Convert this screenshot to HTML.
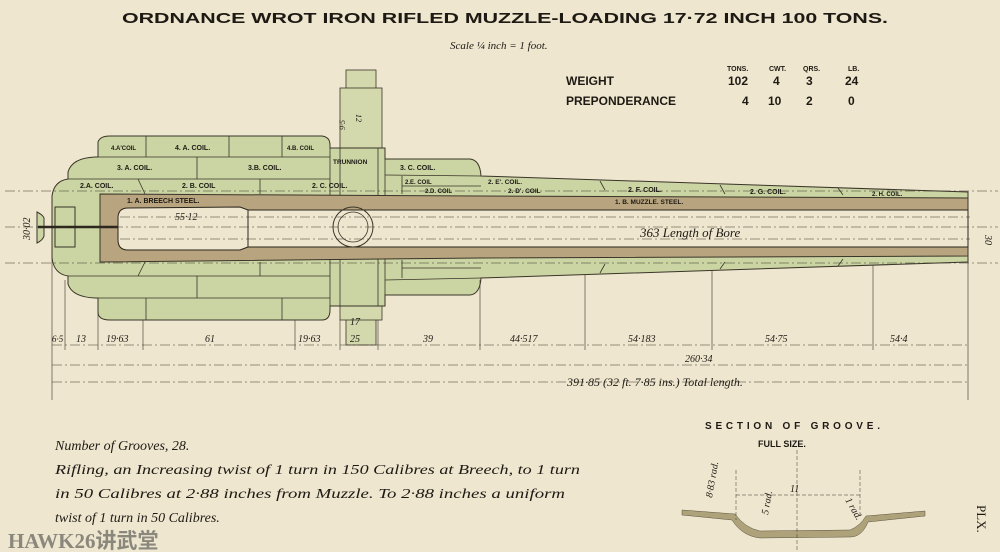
<!DOCTYPE html>
<html><head><meta charset="utf-8"><style>
html,body{margin:0;padding:0;background:#efe6cf;}
svg{display:block}
.t{font-family:"Liberation Sans",sans-serif;font-weight:bold;fill:#1d1a14}
.i{font-family:"Liberation Serif",serif;font-style:italic;fill:#1d1a14}
.c{font-family:"Liberation Sans",sans-serif;font-weight:bold;font-size:7px;fill:#1d1a14}
.d{font-family:"Liberation Serif",serif;font-style:italic;font-size:10px;fill:#1d1a14}
</style></head><body>
<svg width="1000" height="552" viewBox="0 0 1000 552" xmlns="http://www.w3.org/2000/svg">
<rect width="1000" height="552" fill="#efe6cf"/>
<!-- title -->
<text class="t" x="122" y="23" font-size="15" textLength="766" lengthAdjust="spacingAndGlyphs">ORDNANCE  WROT  IRON  RIFLED MUZZLE-LOADING 17·72  INCH  100 TONS.</text>
<text class="i" x="450" y="49" font-size="11">Scale ¼ inch = 1 foot.</text>
<!-- weight table -->
<g class="t" font-size="7"><text x="727" y="71">TONS.</text><text x="769" y="71">CWT.</text><text x="803" y="71">QRS.</text><text x="848" y="71">LB.</text></g>
<g class="t" font-size="12"><text x="566" y="85">WEIGHT</text><text x="566" y="105">PREPONDERANCE</text>
<text x="728" y="85">102</text><text x="773" y="85">4</text><text x="806" y="85">3</text><text x="845" y="85">24</text>
<text x="742" y="105">4</text><text x="768" y="105">10</text><text x="806" y="105">2</text><text x="848" y="105">0</text></g>

<!-- trunnion strip top/bottom -->
<g fill="#d3d9ad" stroke="#3a3528" stroke-width="0.8">
<rect x="346" y="70" width="30" height="82"/>
<rect x="340" y="88" width="42" height="60"/>
<rect x="346" y="300" width="30" height="45"/>
<rect x="340" y="300" width="42" height="20"/>
</g>
<!-- gun body -->
<path d="M52,227 L52,196 Q54,181 68,179 L68,172 Q72,158 95,157 L98,157 L98,142 Q100,136 110,136 L322,136 Q330,137 330,145 L330,148 L385,148 L385,159 L470,159 Q480,160 481,176 L968,192 L968,262 L481,278 Q480,294 470,295 L385,295 L385,306 L330,306 L330,310 Q330,320 322,320 L110,320 Q98,320 98,312 L98,298 L95,298 Q72,297 68,284 L68,276 Q54,274 52,258 Z" fill="#cbd4a3" stroke="#3a3528" stroke-width="1"/>
<!-- layer lines -->
<g stroke="#3a3528" stroke-width="0.8" fill="none">
<path d="M98,157 L330,157 M68,179 L330,179 M98,298 L330,298 M68,276 L330,276"/>
<path d="M385,175 L481,176 M385,280 L481,278 M402,186 L481,186 M402,268 L481,268 M402,176 L402,194 M402,260 L402,278"/>
<path d="M146,136 L146,157 M229,136 L229,157 M282,136 L282,157 M197,157 L197,179 M138,179 L145,194 M260,179 L260,194 M146,298 L146,320 M282,298 L282,320 M197,276 L197,298 M138,276 L145,262 M260,276 L260,262"/>
<path d="M600,181 L605,190 M720,185 L725,194 M838,188 L843,195 M600,273 L605,264 M720,269 L725,262 M838,266 L843,259"/>
<path d="M330,148 L330,306 M385,148 L385,306 M340,148 L340,306 M378,148 L378,306"/>
</g>
<!-- steel tube -->
<path d="M100,194 L480,196 L968,198 L968,256 L480,258 L100,262 Z" fill="#b8a57f" stroke="#3a3528" stroke-width="1"/>
<!-- bore -->
<path d="M248,210 L968,210 L968,247 L248,247 Z" fill="#efe6cf" stroke="#2a251c" stroke-width="1"/>
<path d="M128,208 L240,207 L248,210 L248,247 L240,250 L128,250 Q118,250 118,240 L118,218 Q118,208 128,208 Z" fill="#efe6cf" stroke="#2a251c" stroke-width="1"/>
<!-- cascabel -->
<rect x="55" y="207" width="20" height="40" fill="#cbd4a3" stroke="#3a3528" stroke-width="1"/>
<path d="M37,212 Q43,215 44,218 L44,236 Q43,240 37,243 L37,212 Z" fill="#cbd4a3" stroke="#3a3528"/>
<line x1="38" y1="227" x2="118" y2="227" stroke="#2a251c" stroke-width="2.5"/>
<!-- trunnion circle -->
<circle cx="353" cy="227" r="20" fill="none" stroke="#3a3528" stroke-width="1"/>
<circle cx="353" cy="227" r="15" fill="none" stroke="#3a3528" stroke-width="0.8"/>
<!-- centerlines -->
<g stroke="#3a3528" stroke-width="0.6" stroke-dasharray="10,3,2,3" fill="none">
<line x1="5" y1="227" x2="998" y2="227"/>
<line x1="5" y1="191" x2="998" y2="191"/>
<line x1="5" y1="263" x2="998" y2="263"/>
<line x1="120" y1="217" x2="970" y2="217"/>
<line x1="120" y1="239" x2="970" y2="239"/>
</g>
<!-- coil labels -->
<g class="c">
<text x="111" y="150" font-size="6">4.A'COIL</text><text x="175" y="150">4. A. COIL.</text><text x="287" y="150" font-size="6">4.B. COIL</text>
<text x="117" y="170">3. A. COIL.</text><text x="248" y="170">3.B. COIL.</text><text x="333" y="164" font-size="6.5">TRUNNION</text><text x="400" y="170">3. C. COIL.</text>
<text x="80" y="188">2.A. COIL.</text><text x="182" y="188">2. B. COIL</text><text x="312" y="188">2. C. COIL.</text>
<text x="405" y="184" font-size="6">2.E. COIL</text><text x="425" y="193" font-size="6">2.D. COIL</text>
<text x="488" y="184" font-size="6.5">2. E'. COIL.</text><text x="508" y="193" font-size="6.5">2. D'. COIL</text>
<text x="628" y="192">2. F. COIL.</text><text x="750" y="194">2. G. COIL.</text><text x="872" y="196" font-size="6">2. H. COIL.</text>
<text x="127" y="203">1. A. BREECH STEEL.</text><text x="615" y="204" font-size="6.5">1. B. MUZZLE. STEEL.</text>
</g>
<!-- inner dims -->
<g class="d">
<text x="175" y="220">55·12</text>
<text x="640" y="237" font-size="13">363 Length of Bore</text>
<text x="356" y="114" font-size="8" transform="rotate(90 356 114)">12</text>
<text x="345" y="130" font-size="8" transform="rotate(-90 345 130)">9·5</text>
<text x="30" y="240" transform="rotate(-90 30 240)">30·02</text>
<text x="985" y="235" transform="rotate(90 985 235)">30</text>
</g>
<!-- dimension lines -->
<g stroke="#3a3528" stroke-width="0.6" fill="none">
<path d="M52,258 V400 M65,280 V350 M98,300 V350 M143,320 V350 M295,320 V350 M340,320 V350 M378,320 V350 M480,280 V350 M585,275 V350 M712,270 V350 M873,265 V350 M968,262 V400"/>
<path d="M52,345 H968 M52,365 H968 M52,382 H968" stroke-dasharray="10,3,2,3"/>
</g>
<g class="d">
<text x="52" y="342" font-size="9">6·5</text><text x="76" y="342">13</text><text x="106" y="342">19·63</text><text x="205" y="342">61</text>
<text x="298" y="342">19·63</text><text x="350" y="342">25</text><text x="423" y="342">39</text><text x="510" y="342">44·517</text>
<text x="628" y="342">54·183</text><text x="765" y="342">54·75</text><text x="890" y="342">54·4</text>
<text x="685" y="362">260·34</text>
<text x="350" y="325">17</text>
<text x="567" y="386" font-size="12">391·85  (32 ft. 7·85 ins.) Total length.</text>
</g>
<!-- notes -->
<g class="i" font-size="14">
<text x="55" y="450">Number of Grooves, 28.</text>
<text x="55" y="474" textLength="525" lengthAdjust="spacingAndGlyphs">Rifling, an Increasing twist of 1 turn in 150 Calibres at Breech, to 1 turn</text>
<text x="55" y="498" textLength="510" lengthAdjust="spacingAndGlyphs">in 50 Calibres at 2·88 inches from Muzzle. To 2·88 inches a uniform</text>
<text x="55" y="522">twist of 1 turn in 50 Calibres.</text>
</g>
<text x="8" y="548" font-family="Liberation Serif,'Noto Sans CJK SC',serif" font-weight="bold" font-size="21" fill="#8a887c">HAWK26讲武堂</text>
<!-- groove section -->
<text class="t" x="705" y="429" font-size="10" textLength="175" lengthAdjust="spacing">SECTION  OF  GROOVE.</text>
<text class="t" x="758" y="447" font-size="9">FULL SIZE.</text>
<path d="M682,510 L735,514 Q745,528 760,531 L850,530 Q860,526 866,516 L925,511 L925,516 L868,522 Q862,537 850,537 L760,538 Q742,536 732,520 L682,515 Z" fill="#aea27a" stroke="#5a5240" stroke-width="0.5"/>
<g stroke="#3a3528" stroke-width="0.5" stroke-dasharray="4,2" fill="none">
<line x1="736" y1="470" x2="736" y2="520"/><line x1="860" y1="470" x2="860" y2="515"/><line x1="797" y1="450" x2="797" y2="552"/><line x1="736" y1="495" x2="860" y2="495"/>
</g>
<g class="d" font-size="9"><text x="790" y="492">11</text>
<text x="712" y="498" transform="rotate(-80 712 498)">8·83 rad.</text>
<text x="768" y="515" transform="rotate(-80 768 515)">5 rad.</text>
<text x="845" y="500" transform="rotate(60 845 500)">1 rad.</text></g>
<text x="977" y="505" font-family="Liberation Serif,serif" font-size="13" fill="#1d1a14" transform="rotate(90 977 505)">PLX.</text>
</svg>
</body></html>
